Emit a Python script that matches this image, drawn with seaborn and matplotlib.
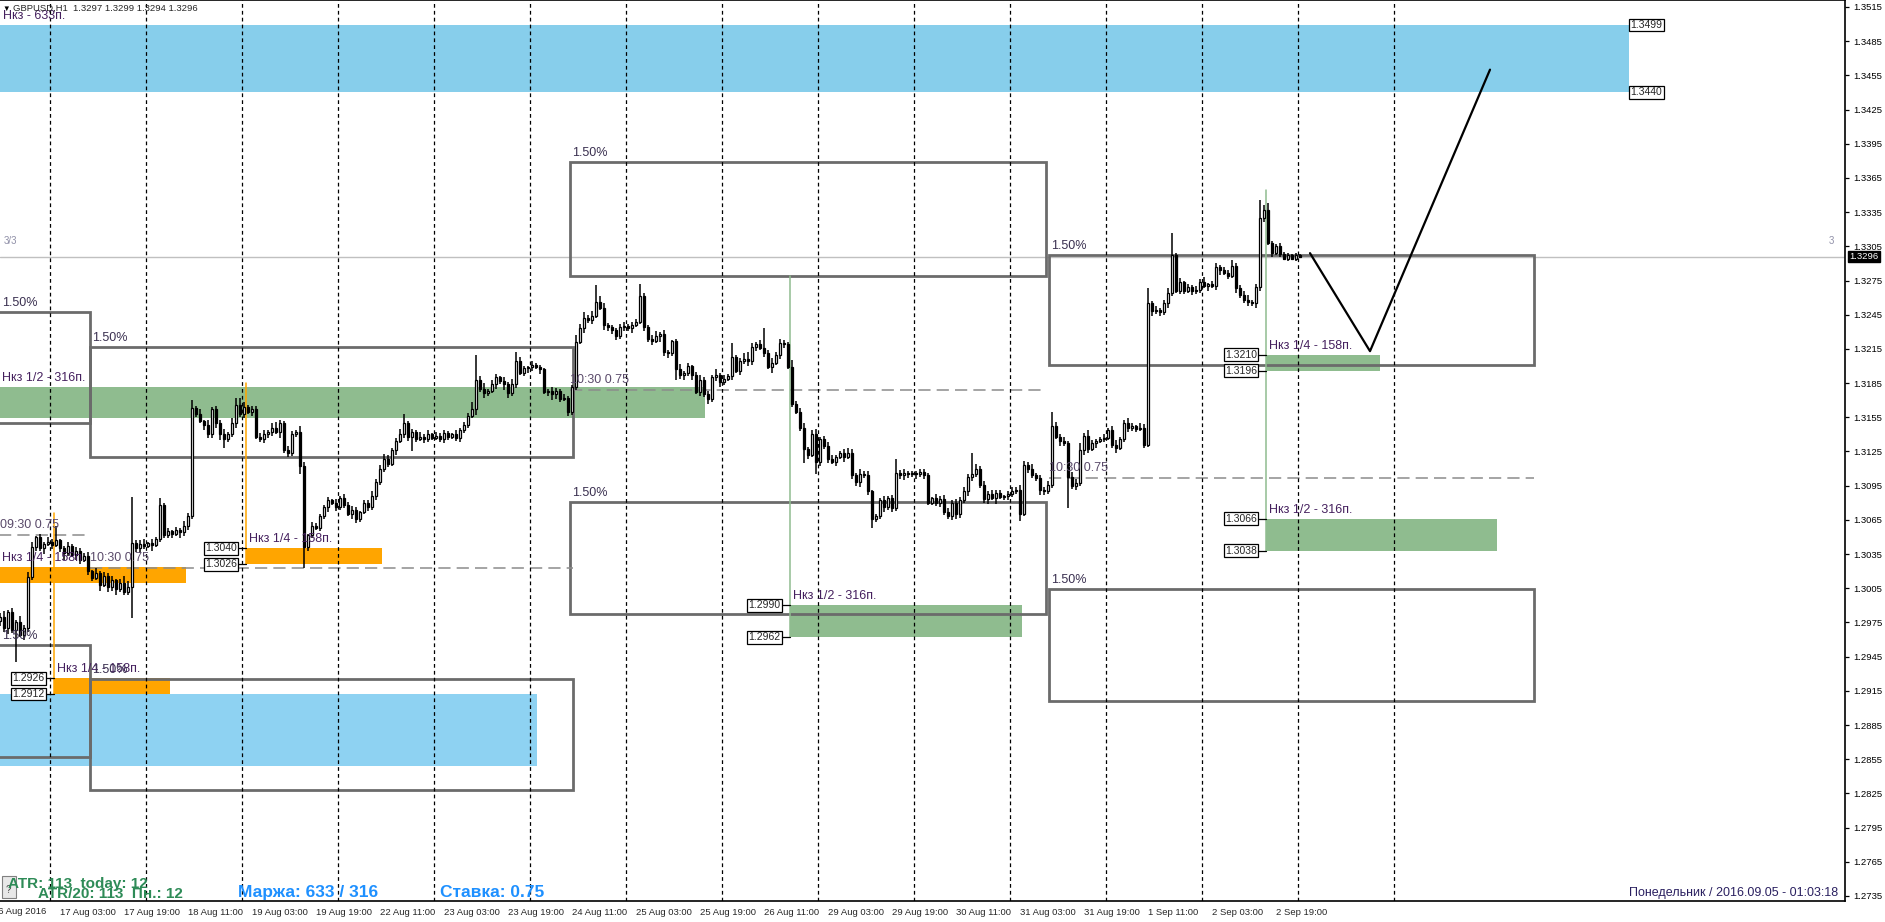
import numpy as np
import pandas as pd
import seaborn as sns
import matplotlib.pyplot as plt
from matplotlib.patches import Rectangle
from matplotlib.transforms import offset_copy, blended_transform_factory

sns.set_style("white")
plt.rcParams['font.family'] = ['Liberation Sans', 'DejaVu Sans']

# GBPUSD H1 closes in pips above 1.3000, bar -15 .. 310 (bar 0 = 17 Aug 03:00)
closes = [
    -20, -30, -16, -32, -25, -36, -30, 15, 41, 50, 40, 44, 46, 43, 47, 40, 36, 42, 34, 38,
    30, 33, 20, 14, 18, 8, 16, 6, 12, 4, 10, 2, 6, 45, 40, 44, 42, 45, 43, 48,
    78, 52, 55, 53, 56, 54, 60, 68, 163, 158, 152, 148, 140, 162, 150, 140, 136, 140, 150, 166,
    158, 164, 160, 162, 138, 136, 140, 142, 146, 142, 150, 126, 124, 140, 142, 112, 41, 52, 60, 58,
    68, 76, 82, 80, 76, 84, 78, 70, 74, 66, 72, 80, 76, 86, 98, 110, 118, 114, 126, 134,
    140, 150, 138, 142, 136, 138, 136, 140, 137, 139, 136, 141, 138, 140, 137, 144, 148, 156, 162, 188,
    180, 176, 178, 184, 190, 187, 184, 176, 184, 204, 194, 198, 199, 201, 199, 197, 177, 178, 175, 178,
    171, 172, 160, 182, 221, 233, 242, 240, 244, 256, 251, 236, 234, 232, 226, 234, 235, 233, 236, 239,
    261, 234, 224, 222, 226, 228, 212, 211, 222, 197, 192, 194, 200, 192, 177, 188, 175, 171, 190, 192,
    186, 189, 191, 208, 196, 204, 206, 204, 217, 219, 216, 211, 199, 203, 210, 220, 219, 199, 167, 160,
    146, 127, 122, 140, 116, 136, 130, 118, 116, 120, 124, 120, 124, 104, 98, 105, 104, 90, 66, 68,
    82, 76, 84, 75, 106, 104, 106, 105, 106, 105, 107, 104, 80, 84, 80, 83, 72, 68, 80, 70,
    82, 90, 103, 105, 110, 96, 83, 88, 84, 89, 85, 86, 88, 90, 91, 70, 113, 110, 104, 102,
    91, 90, 96, 147, 138, 134, 132, 103, 95, 97, 126, 139, 127, 132, 134, 136, 137, 144, 131, 128,
    136, 150, 146, 147, 145, 146, 131, 255, 248, 249, 247, 255, 264, 297, 266, 274, 266, 269, 266, 267,
    274, 270, 272, 270, 287, 284, 282, 279, 288, 268, 262, 258, 256, 255, 269, 330, 337, 308, 299, 305,
    298, 294, 297, 294, 297, 296,
]
first_open = -24
first_bar = -15

# wick lengths in pips, one digit per candle
up_wick = [
    "35242634513242312423", "23415232413652234132", "42313243624152335246",
    "34233342453243254132", "22313243321224335423", "53232424132321423365",
    "35243132524213221243", "23216453425422134232", "43235242125231342325",
    "23242356324234243212", "34245233421343253412", "24236342223321434323",
    "34254232322124354342", "23334242443253223234", "23431433242342231323",
    "24133232523442354222", "322121",
]
down_wick = [
    "43526243332524236324", "42332524352334343252", "23342534232433452324",
    "34242343325243242332", "32423232443232423324", "23423243223432343225",
    "34224354232343242354", "32433242322434323242", "23342534243434232433",
    "43232424342325243232", "32423433242423342343", "24232343242322343234",
    "32442334252343232423", "43232424342432423234", "23433232423243233243",
    "32423423242332434232", "212121",
]
# long shadows (bar: pips)
high_fix = {-1: 60, 18: 85, 25: 84, 33: 170, 45: 172, 86: 158, 104: 210, 114: 212, 134: 271,
            145: 272, 168: 220, 176: 233, 183: 205, 209: 118, 228: 124, 248: 160, 255: 132,
            272: 268, 278: 317, 300: 346, 302: 343}
low_fix = {-11: -60, 18: -21, 41: 128, 60: 105, 61: 23, 88: 125, 128: 158, 154: 188, 186: 115,
           189: 105, 203: 58, 240: 64, 252: 75}

# zones: (bar_from, bar_to, price_low, price_high)
blue_zones = [(-15.3, 392.25, 1.3440, 1.3499), (-15.3, 119.25, 1.2849, 1.2912)]
green_zones = [(-15.3, 161.25, 1.3154, 1.3182), (182.5, 240.5, 1.2962, 1.2990),
               (301.5, 330.0, 1.3196, 1.3210), (301.5, 359.25, 1.3038, 1.3066)]
green_text = ["Нкз 1/2 - 316п.", "Нкз 1/2 - 316п.", "Нкз 1/4 - 158п.", "Нкз 1/2 - 316п."]
orange_zones = [(-15.3, 31.5, 1.3010, 1.3024), (46.5, 80.5, 1.3026, 1.3040),
                (-1.5, 27.5, 1.2912, 1.2926)]
range_boxes = [(-15.3, 7.5, 1.3150, 1.3247), (7.5, 128.25, 1.3120, 1.3217),
               (127.5, 246.5, 1.3279, 1.3379), (127.5, 246.5, 1.2982, 1.3081),
               (247.25, 368.5, 1.3201, 1.3297), (247.25, 368.5, 1.2906, 1.3004),
               (-15.3, 7.5, 1.2857, 1.2955), (7.5, 128.25, 1.2828, 1.2925)]
news_lines = [(-15.3, 7.0, 1.3052, "09:30 0.75"), (7.5, 128.25, 1.3023, "10:30 0.75"),
              (127.5, 246.5, 1.3179, "10:30 0.75"), (247.25, 368.5, 1.3102, "10:30 0.75")]
markers = [(-1.5, 1.2912, 1.3071, "#FFA500"), (46.5, 1.3026, 1.3185, "#FFA500"),
           (182.5, 1.2962, 1.3279, "#8FBC8F"), (301.5, 1.3038, 1.3354, "#8FBC8F")]
price_tags = [(392.25, 1.3499, "r"), (392.25, 1.3440, "r"), (-1.5, 1.2926, "l"), (-1.5, 1.2912, "l"),
              (46.5, 1.3040, "l"), (46.5, 1.3026, "l"), (182.5, 1.2990, "l"), (182.5, 1.2962, "l"),
              (301.5, 1.3210, "l"), (301.5, 1.3196, "l"), (301.5, 1.3066, "l"), (301.5, 1.3038, "l")]
zig_bars = [312.5, 327.5, 357.5]
zig_prices = [1.3299, 1.3213, 1.3460]
last_price = 1.3296

x_labels = ["17 Aug 03:00", "17 Aug 19:00", "18 Aug 11:00", "19 Aug 03:00", "19 Aug 19:00",
            "22 Aug 11:00", "23 Aug 03:00", "23 Aug 19:00", "24 Aug 11:00", "25 Aug 03:00",
            "25 Aug 19:00", "26 Aug 11:00", "29 Aug 03:00", "29 Aug 19:00", "30 Aug 11:00",
            "31 Aug 03:00", "31 Aug 19:00", "1 Sep 11:00", "2 Sep 03:00", "2 Sep 19:00"]

# ---- candles table
c = np.array(closes, float)
o = np.r_[first_open, c[:-1]]
up = np.array([int(ch) for ch in "".join(up_wick)])
dn = np.array([int(ch) for ch in "".join(down_wick)])
hi = np.maximum(o, c) + up
lo = np.minimum(o, c) - dn
bars = np.arange(first_bar, first_bar + len(c))
for b, v in high_fix.items():
    hi[b - first_bar] = max(hi[b - first_bar], v)
for b, v in low_fix.items():
    lo[b - first_bar] = min(lo[b - first_bar], v)
df = pd.DataFrame({"bar": bars, "open": 1.3 + o / 1e4, "close": 1.3 + c / 1e4,
                   "high": 1.3 + hi / 1e4, "low": 1.3 + lo / 1e4})

W, H = 1885, 922
fig = plt.figure(figsize=(W / 100, H / 100), dpi=100)
ax = fig.add_axes([0, 21 / H, 1845 / W, 901 / H])
ax.set_xlim(-15, 446.25)
ax.set_ylim(1.27306, 1.35211)

txt_purple = "#45205e"
for x0, x1, p0, p1 in blue_zones[:1]:
    ax.add_patch(Rectangle((x0, p0), x1 - x0, p1 - p0, fc="#87CEEB", ec="none", zorder=1))
for x0, x1, p0, p1 in blue_zones[1:]:
    ax.add_patch(Rectangle((x0, p0), x1 - x0, p1 - p0, fc="#8ED2F2", ec="none", zorder=1))
for (x0, x1, p0, p1), t in zip(green_zones, green_text):
    ax.add_patch(Rectangle((x0, p0), x1 - x0, p1 - p0, fc="#8FBC8F", ec="none", zorder=1))
    ax.text(x0, p1, t, fontsize=9, color=txt_purple, va="bottom", clip_on=False,
            transform=offset_copy(ax.transData, fig, x=3, y=3, units="dots"), zorder=6)
for x0, x1, p0, p1 in orange_zones:
    ax.add_patch(Rectangle((x0, p0), x1 - x0, p1 - p0, fc="#FFA500", ec="none", zorder=1))
    ax.text(x0, p1, "Нкз 1/4 - 158п.", fontsize=9, color=txt_purple, va="bottom", clip_on=False,
            transform=offset_copy(ax.transData, fig, x=3, y=3, units="dots"), zorder=6)
ax.text(-15.3, 1.3499, "Нкз - 633п.", fontsize=9, color=txt_purple, va="bottom", clip_on=False,
        transform=offset_copy(ax.transData, fig, x=4, y=3, units="dots"), zorder=6)

for x0, x1, p0, p1 in range_boxes:
    ax.add_patch(Rectangle((x0, p0), x1 - x0, p1 - p0, fill=False, ec="#6b6b6b", lw=2, zorder=2))
    ax.text(max(x0, -15), p1, "1.50%", fontsize=9, color="#3a3050", va="bottom", clip_on=False,
            transform=offset_copy(ax.transData, fig, x=2, y=3, units="dots"), zorder=6)

for x0, x1, p, t in news_lines:
    ax.plot([x0, x1], [p, p], color="#8c8c8c", lw=1.1, dashes=(8, 4), zorder=2)
    ax.text(max(x0, -15), p, t, fontsize=9, color="#5a4a6a", va="bottom", clip_on=False,
            transform=offset_copy(ax.transData, fig, x=0, y=4, units="dots"), zorder=6)

for b, p0, p1, col in markers:
    ax.plot([b, b], [p0, p1], color=col, lw=1.1, zorder=2)

# day separators
for b in range(-3, 340, 24):
    ax.axvline(b + 0.5, color="black", lw=0.9, dashes=(3, 2.5), zorder=2)

ax.axhline(last_price, color="#c0c0c0", lw=1, zorder=1)

# candles
ax.vlines(df.bar, df.low, df.high, color="black", lw=1.1, zorder=3)
bull = df.close >= df.open
ax.bar(df.bar, df.close - df.open, bottom=df.open, width=0.55,
       color=np.where(bull, "white", "black"), edgecolor="black", linewidth=0.9, zorder=4)

sns.lineplot(x=zig_bars, y=zig_prices, ax=ax, color="black", lw=1.6, sort=False, zorder=5)

for b, p, side in price_tags:
    if side == "l":
        ax.plot([b - 2.3, b], [p, p], color="black", lw=0.9, zorder=5)
        ax.text(b - 2.3, p, f"{p:.4f}", fontsize=7.5, ha="right", va="center", zorder=6,
                bbox=dict(boxstyle="square,pad=0.12", fc="white", ec="black", lw=0.9))
    else:
        ax.text(b + 0.4, p, f"{p:.4f}", fontsize=7.5, ha="left", va="center", zorder=6,
                bbox=dict(boxstyle="square,pad=0.12", fc="white", ec="black", lw=0.9))

# axes styling
for s in ["top", "right", "bottom"]:
    ax.spines[s].set_visible(True)
    ax.spines[s].set_color("black")
    ax.spines[s].set_linewidth(1.2)
ax.spines["left"].set_visible(False)
ax.yaxis.tick_right()
yt = np.round(np.arange(1.2735, 1.3516, 0.003), 4)
ax.set_yticks(yt)
ax.set_yticklabels([f"{v:.4f}" for v in yt])
ax.tick_params(axis="y", length=3, width=0.9, pad=3, labelsize=6.8, colors="black", direction="out")
xt = list(range(0, 16 * len(x_labels), 16))
ax.set_xticks(xt)
ax.set_xticklabels(x_labels, ha="left")
ax.tick_params(axis="x", length=4, width=0.9, pad=1, labelsize=6.8, direction="out")
ax.text(-16, 0, "16 Aug 2016", fontsize=6.8, ha="left", va="top", clip_on=False,
        transform=offset_copy(blended_transform_factory(ax.transData, ax.transAxes), fig,
                              x=-3, y=-6, units="dots"))
ax.grid(False)

# current price tag
ax.text(1.0, last_price, "1.3296", fontsize=6.8, color="white", ha="left", va="center",
        transform=offset_copy(blended_transform_factory(ax.transAxes, ax.transData), fig,
                              x=4, y=0, units="dots"), clip_on=False, zorder=7,
        bbox=dict(boxstyle="square,pad=0.15", fc="black", ec="black"))

def ftext(x, y, s, **kw):
    fig.text(x / W, 1 - y / H, s, **kw)

ftext(2, 11, "\u25BC", fontsize=5.5, va="baseline", color="black")
ftext(13, 11, "GBPUSD,H1  1.3297 1.3299 1.3294 1.3296", fontsize=6.8, va="baseline")
ftext(4, 244, "3/3", fontsize=7, color="#9090a8", va="baseline")
ftext(1829, 244, "3", fontsize=7, color="#9090a8", va="baseline")

fig.patches.append(Rectangle((2 / W, 1 - 898 / H), 14 / W, 22 / H, transform=fig.transFigure,
                             fc="#e8e8e8", ec="#808080", lw=0.8, zorder=0.5))
ftext(6, 893, "?", fontsize=7, color="#404040", va="baseline")
ftext(8, 888, "ATR: 113  today: 12", fontsize=11, fontweight="bold", color="#2E8B57", va="baseline")
ftext(38, 898, "ATR/20: 113  Пн.: 12", fontsize=11, fontweight="bold", color="#2E8B57", va="baseline")
ftext(238, 897, "Маржа: 633 / 316", fontsize=12.5, fontweight="bold", color="#1E90FF", va="baseline")
ftext(440, 897, "Ставка: 0.75", fontsize=12.5, fontweight="bold", color="#1E90FF", va="baseline")
ftext(1838, 896, "Понедельник / 2016.09.05 - 01:03:18", fontsize=9, color="#2a2060",
      ha="right", va="baseline")

fig.savefig("out.png", dpi=100, facecolor="white")
